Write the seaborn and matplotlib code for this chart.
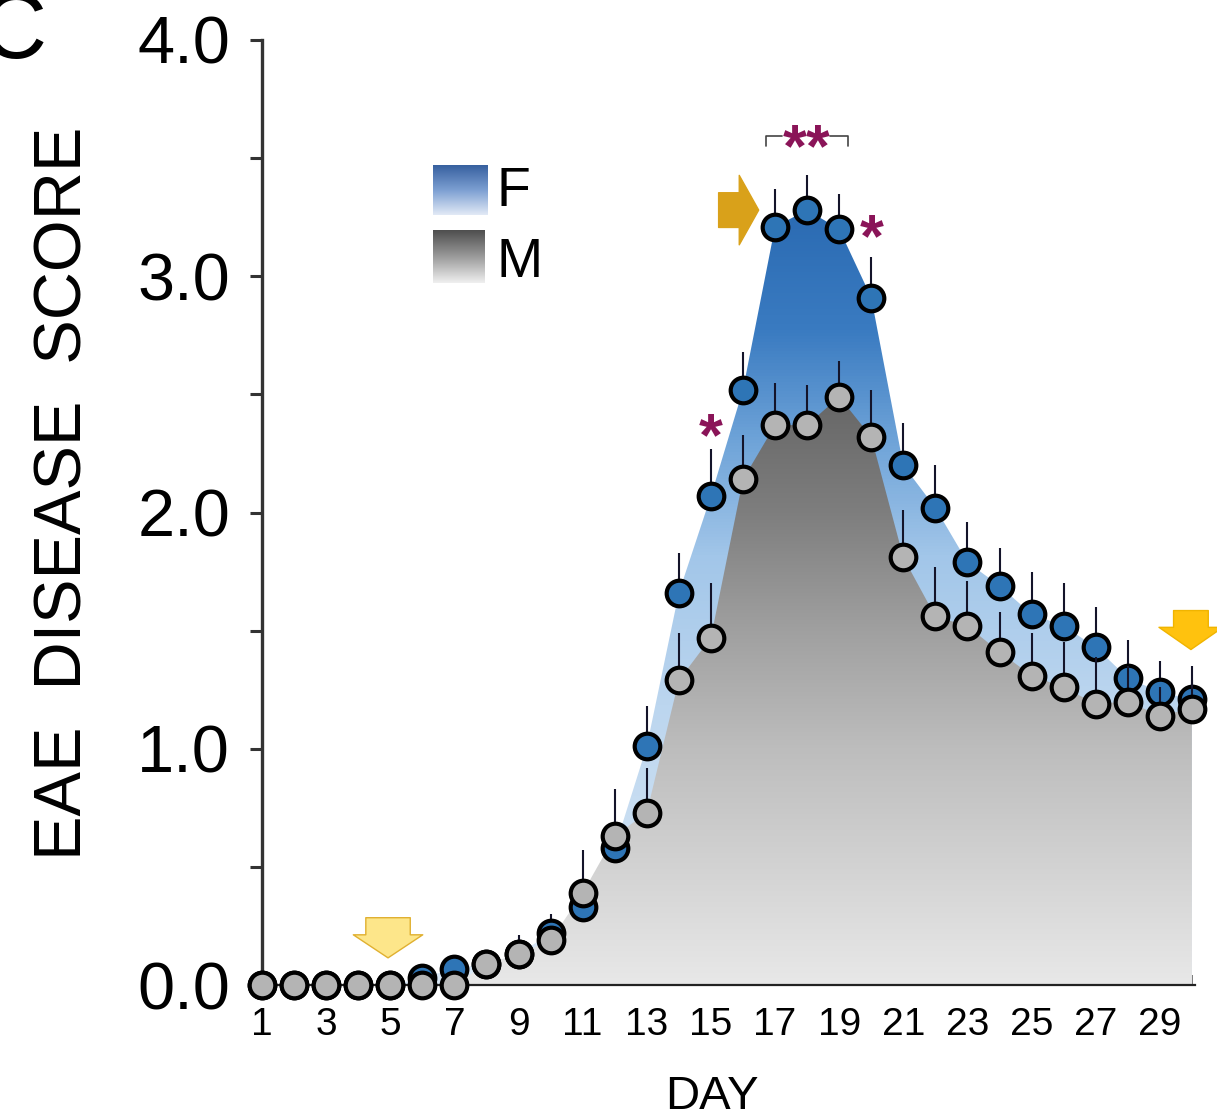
import numpy as np
import matplotlib
matplotlib.use("Agg")
import matplotlib.pyplot as plt
from matplotlib.colors import LinearSegmentedColormap
import seaborn as sns

# -=-=-=-=-=- DATA -=-=-=-=-=-
days = np.arange(1, 31)

f_mean = [0, 0, 0, 0, 0, 0.03, 0.07, 0.09, 0.13, 0.22,
          0.33, 0.58, 1.01, 1.66, 2.07, 2.52, 3.21, 3.28, 3.20, 2.91,
          2.20, 2.02, 1.79, 1.69, 1.57, 1.52, 1.43, 1.30, 1.24, 1.21]
f_err = [0, 0, 0, 0, 0, 0.02, 0.05, 0.05, 0.05, 0.08,
         0.05, 0.05, 0.17, 0.17, 0.20, 0.16, 0.16, 0.15, 0.15, 0.17,
         0.18, 0.18, 0.17, 0.16, 0.18, 0.18, 0.17, 0.16, 0.13, 0.14]

m_mean = [0, 0, 0, 0, 0, 0, 0, 0.09, 0.13, 0.19,
          0.39, 0.63, 0.73, 1.29, 1.47, 2.14, 2.37, 2.37, 2.49, 2.32,
          1.81, 1.56, 1.52, 1.41, 1.31, 1.26, 1.19, 1.20, 1.14, 1.17]
m_err = [0, 0, 0, 0, 0, 0, 0, 0.06, 0.08, 0.05,
         0.18, 0.20, 0.19, 0.20, 0.23, 0.19, 0.18, 0.17, 0.15, 0.20,
         0.20, 0.21, 0.19, 0.17, 0.18, 0.19, 0.20, 0.15, 0.12, 0.12]

xtick_labels = [str(d) if d % 2 else "" for d in days]
ytick_major = [0, 1, 2, 3, 4]
ytick_labels = ["0.0", "1.0", "2.0", "3.0", "4.0"]

# significance marks: (day, height, text)
stars = [(15, 2.31, "*"), (20, 3.15, "*"), (18, 3.53, "**")]

sns.set_style("ticks")
plt.rcParams["font.family"] = ["Liberation Sans", "DejaVu Sans"]
plt.rcParams["text.color"] = "black"
plt.rcParams["axes.labelcolor"] = "black"
plt.rcParams["xtick.labelcolor"] = "black"
plt.rcParams["ytick.labelcolor"] = "black"

blue_cmap = LinearSegmentedColormap.from_list(
    "fblue", [(0, "#dae8f6"), (0.36, "#bcd6ef"), (0.55, "#a2c6e9"),
              (0.7, "#6ea3d8"), (0.84, "#3a7bc1"), (1, "#2a6ab2")])
gray_cmap = LinearSegmentedColormap.from_list(
    "mgray", [(0, "#e8e8e8"), (0.4, "#bdbdbd"), (0.6, "#a0a0a0"),
              (0.8, "#7e7e7e"), (1, "#666666")])


def gradient_fill(ax, x, y, cmap, ymax, zorder):
    poly = ax.fill_between(x, 0, y, facecolor="none", edgecolor="none")
    grad = np.linspace(0, 1, 256).reshape(-1, 1)
    im = ax.imshow(grad, aspect="auto", origin="lower", cmap=cmap,
                   extent=[min(x), max(x), 0, ymax], zorder=zorder)
    im.set_clip_path(poly.get_paths()[0], transform=ax.transData)


fig, ax = plt.subplots(figsize=(12.17, 11.2), dpi=100)
ax.set_position([0.2153, 0.1205, 0.7667, 0.8438])

gradient_fill(ax, days, f_mean, blue_cmap, 3.3, 1)
gradient_fill(ax, days, m_mean, gray_cmap, 2.5, 2)

# whiskers (upper only) and markers
ax.errorbar(days, f_mean, yerr=[np.zeros(30), f_err], fmt="none",
            ecolor="#14142a", elinewidth=1.5, capsize=0, zorder=3, clip_on=False)
sns.scatterplot(x=days, y=f_mean, color="#2e75b6", s=340, edgecolor="black",
                linewidth=3, zorder=4, clip_on=False, ax=ax)
ax.errorbar(days, m_mean, yerr=[np.zeros(30), m_err], fmt="none",
            ecolor="#14142a", elinewidth=1.5, capsize=0, zorder=5, clip_on=False)
sns.scatterplot(x=days, y=m_mean, color="#b4b4b4", s=340, edgecolor="black",
                linewidth=3, zorder=6, clip_on=False, ax=ax)

ax.set_xlim(1, 30.1)
ax.set_ylim(0, 4)

# axes styling
sns.despine(ax=ax)
ax.spines["left"].set_linewidth(2.4)
ax.spines["left"].set_color("#333333")
ax.spines["bottom"].set_linewidth(1.6)
ax.spines["bottom"].set_color("#222222")

ax.set_yticks(ytick_major)
ax.set_yticklabels(ytick_labels)
ax.set_yticks(np.arange(0.5, 4, 1), minor=True)
ax.tick_params(axis="y", which="both", direction="out", length=9, width=2.2,
               color="#333333", labelsize=48, pad=14)
ax.set_xticks(days)
ax.set_xticklabels(xtick_labels)
ax.tick_params(axis="x", direction="in", length=7, width=1.2, color="#666666",
               labelsize=28, pad=16)

ax.set_ylabel("EAE  DISEASE  SCORE", fontsize=48)
ax.yaxis.set_label_coords(-0.178, 0.5206)
ax.set_xlabel("DAY", fontsize=34)
ax.xaxis.set_label_coords(0.482, -0.095)

# significance stars and bracket
for d, h, s in stars:
    ax.text(d, h, s, color="#8a1458", fontsize=44, fontweight="bold",
            ha="center", va="center", zorder=7)
ax.plot([16.72, 16.72, 17.22], [3.55, 3.595, 3.595], color="#444444", lw=1.2)
ax.plot([18.71, 19.27, 19.27], [3.595, 3.595, 3.55], color="#444444", lw=1.2)

# treatment arrows
ax.annotate("", xy=(4.93, 0.115), xytext=(4.93, 0.285), annotation_clip=False,
            arrowprops=dict(arrowstyle="simple,head_length=0.83,head_width=2.5,tail_width=1.6",
                            mutation_scale=20, fc="#fde68a", ec="#e0b030", lw=1.0,
                            shrinkA=0, shrinkB=0))
ax.annotate("", xy=(16.49, 3.28), xytext=(15.24, 3.28), annotation_clip=False,
            arrowprops=dict(arrowstyle="simple,head_length=0.7,head_width=2.5,tail_width=1.25",
                            mutation_scale=20, fc="#d9a11a", ec="#d9a11a", lw=1.0,
                            shrinkA=0, shrinkB=0))
ax.annotate("", xy=(29.97, 1.42), xytext=(29.97, 1.585), annotation_clip=False,
            arrowprops=dict(arrowstyle="simple,head_length=0.8,head_width=2.3,tail_width=1.25",
                            mutation_scale=20, fc="#ffc20e", ec="#f0b400", lw=1.0,
                            shrinkA=0, shrinkB=0))

# gradient legend
leg_f = fig.add_axes([0.3558, 0.808, 0.0444, 0.0446])
leg_m = fig.add_axes([0.3558, 0.7473, 0.0427, 0.0473])
grad = np.linspace(0, 1, 256).reshape(-1, 1)
leg_f.imshow(grad, aspect="auto", origin="lower",
             cmap=LinearSegmentedColormap.from_list("lf", ["#e2eaf6", "#7c9fd2", "#37609f"]))
leg_m.imshow(grad, aspect="auto", origin="lower",
             cmap=LinearSegmentedColormap.from_list("lm", ["#f0f0f0", "#9a9a9a", "#4e4e4e"]))
leg_f.axis("off")
leg_m.axis("off")
fig.text(0.408, 0.8286, "F", fontsize=40, va="center", ha="left")
fig.text(0.408, 0.765, "M", fontsize=40, va="center", ha="left")

# panel letter, cut at the edge as in the figure
fig.text(0.038, 0.948, "C", fontsize=66, ha="right", va="baseline")

plt.savefig("out.png", dpi=100)
